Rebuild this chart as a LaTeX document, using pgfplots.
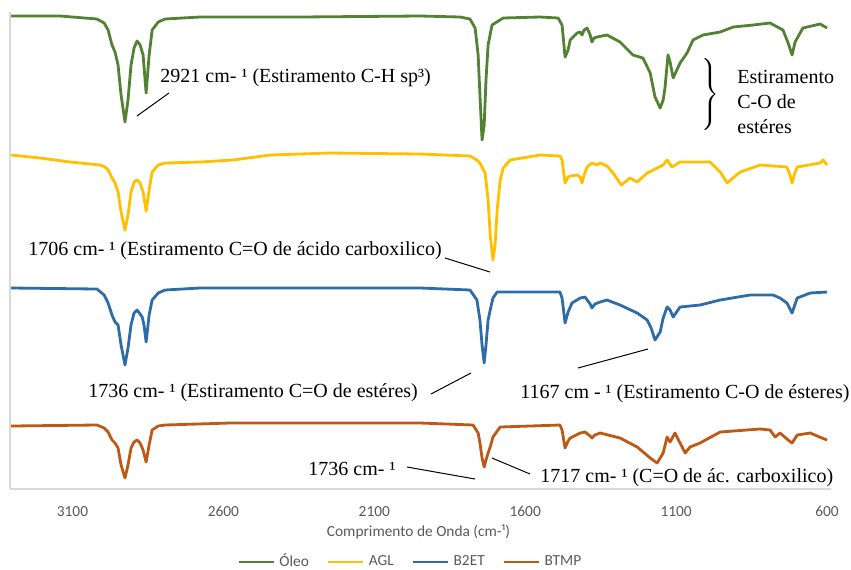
\documentclass[border=0pt]{standalone}
\usepackage{pgfplots}
\pgfplotsset{compat=1.18}
\usepackage{fontspec}
\setmainfont{Liberation Serif}
\newfontfamily\carlito{Carlito}
\definecolor{cOleo}{RGB}{84,130,53}
\definecolor{cAGL}{RGB}{255,192,0}
\definecolor{cB2ET}{RGB}{46,108,168}
\definecolor{cBTMP}{RGB}{190,88,22}
\definecolor{cTxt}{RGB}{89,89,89}
\definecolor{cAx}{RGB}{217,217,217}

\pgfplotstableread{
w y
3303 473
3141 473
3019 470
2995 466
2982 459
2969 444
2959 437
2949 424
2939 394
2926 367
2916 389
2906 424
2896 441
2886 448
2876 444
2866 434
2856 396
2846 434
2836 459
2816 467
2793 470
2677 472
2346 472
1948 473
1816 472
1783 470
1766 461
1756 434
1750 394
1743 349
1736 364
1730 409
1723 444
1710 464
1673 471
1551 472
1491 471
1478 464
1468 432
1458 439
1451 449
1428 456
1418 457
1412 454
1405 459
1395 461
1385 454
1379 447
1372 451
1362 452
1329 454
1286 447
1243 434
1210 431
1186 416
1170 392
1153 381
1143 389
1137 401
1127 434
1120 427
1110 411
1087 426
1064 436
1044 449
1011 454
954 457
911 462
845 464
789 466
746 459
729 446
716 434
706 447
680 461
623 465
600 461
}\oleo

\pgfplotstableread{
w y
3303 334
3207 331
3108 327
3009 324
2992 322
2982 319
2969 311
2959 306
2949 297
2939 277
2926 259
2916 274
2906 297
2896 307
2886 309
2876 306
2866 297
2856 278
2846 299
2836 317
2816 324
2793 326
2677 327
2568 329
2445 334
2247 336
1948 335
1783 333
1760 329
1750 326
1733 316
1723 289
1716 254
1707 229
1700 244
1693 279
1683 309
1673 321
1650 329
1551 334
1485 333
1478 329
1468 306
1458 312
1451 313
1428 314
1418 312
1412 306
1405 314
1395 322
1379 326
1362 324
1352 326
1329 323
1309 316
1282 304
1269 307
1253 311
1229 307
1196 316
1143 324
1130 329
1114 322
1087 327
988 327
954 317
931 306
888 317
822 324
733 322
723 314
716 306
709 314
699 322
623 326
613 329
600 324
}\agl

\pgfplotstableread{
w y
3303 201
3019 200
2995 194
2982 186
2969 174
2959 167
2949 164
2939 144
2926 124
2916 141
2906 164
2896 176
2886 179
2876 175
2869 172
2863 164
2856 147
2846 174
2836 189
2816 196
2793 199
2677 201
1948 201
1783 199
1760 189
1750 169
1743 144
1736 126
1730 144
1723 169
1716 179
1707 191
1693 197
1485 197
1478 191
1468 166
1458 177
1445 186
1418 191
1402 192
1385 185
1379 181
1369 185
1352 187
1329 189
1286 184
1229 176
1196 169
1183 161
1170 149
1153 157
1143 171
1130 182
1120 179
1110 172
1087 182
1021 184
954 189
855 194
779 194
756 191
733 186
716 176
699 191
656 196
600 197
}\btwoet

\pgfplotstableread{
w y
3303 63
3019 64
2995 61
2982 57
2969 49
2959 46
2949 41
2939 24
2926 11
2916 24
2906 41
2896 47
2886 49
2876 46
2866 39
2856 27
2846 44
2836 59
2816 63
2793 64
2578 66
1948 66
1773 64
1756 56
1750 46
1743 31
1736 22
1730 29
1723 36
1716 42
1707 52
1683 62
1485 64
1478 59
1468 41
1458 48
1451 51
1418 56
1402 57
1385 53
1379 51
1369 54
1352 56
1286 51
1229 42
1186 31
1163 26
1143 36
1130 52
1120 47
1104 56
1087 46
1070 36
1054 42
1021 46
954 57
822 60
789 59
772 52
756 56
729 49
716 46
699 54
656 56
617 51
600 49
}\btmp

\begin{document}
\begin{tikzpicture}
\path[use as bounding box] (0,0) rectangle (425.5pt,-284.5pt);
\begin{axis}[
  at={(5pt,-244.5pt)}, anchor=south west,
  scale only axis, width=410.5pt, height=238.5pt,
  xmin=587, xmax=3307, x dir=reverse,
  ymin=0, ymax=477,
  axis x line*=bottom, axis y line*=left,
  axis line style={draw=cAx, line width=0.6pt, -},
  xtick={600,1100,1600,2100,2600,3100}, ytick=\empty,
  major tick length=0pt,
  /pgf/number format/assume math mode=true,
  /pgf/number format/1000 sep={},
  xticklabel style={font=\carlito\fontsize{7.7}{9}\selectfont, text=cTxt, anchor=base, yshift=-13.5pt},
  xlabel={Comprimento de Onda (cm-¹)},
  xlabel style={font=\carlito\fontsize{7.7}{9}\selectfont, text=cTxt, at={(axis description cs:0.4976,0)}, anchor=base, yshift=-23.5pt},
  legend columns=4,
  legend style={at={(axis description cs:0.489,-0.153)}, anchor=center, draw=none, fill=none,
    font=\carlito\fontsize{7.7}{9}\selectfont, text=cTxt,
    /tikz/every even column/.append style={column sep=7pt}},
  legend image code/.code={\draw[#1] (0pt,0pt) -- (17.5pt,0pt);},
  every axis plot/.append style={line width=1.4pt, line join=round},
]
\addplot[cOleo] table[x=w,y=y] {\oleo};
\addlegendentry{Óleo}
\addplot[cAGL] table[x=w,y=y] {\agl};
\addlegendentry{AGL}
\addplot[cB2ET] table[x=w,y=y] {\btwoet};
\addlegendentry{B2ET}
\addplot[cBTMP] table[x=w,y=y] {\btmp};
\addlegendentry{BTMP}
\end{axis}
\begin{scope}[x=0.5pt,y=-0.5pt]
\tikzset{ann/.style={font=\fontsize{10}{12}\selectfont, inner sep=0pt, anchor=base west}}
\node[ann] at (160,82) {2921 cm- ¹ (Estiramento C-H sp³)};
\draw[line width=0.5pt] (137,116) -- (169,93);
\node[ann] at (737,83) {Estiramento};
\node[ann] at (737,108) {C-O de};
\node[ann] at (737,133) {estéres};
\node[inner sep=0pt] at (709,94) {$\left.\rule[-14.5pt]{0pt}{29pt}\right\}$};
\node[ann] at (28,255) {1706 cm- ¹ (Estiramento C=O de ácido carboxilico)};
\draw[line width=0.5pt] (445,258) -- (490,272);
\node[ann] at (88,397) {1736 cm- ¹ (Estiramento C=O de estéres)};
\draw[line width=0.5pt] (431,394) -- (471,373);
\node[ann] at (520,398) {1167 cm - ¹ (Estiramento C-O de ésteres)};
\draw[line width=0.5pt] (578,368) -- (648,349);
\node[ann] at (308,475) {1736 cm- ¹};
\draw[line width=0.5pt] (407,467) -- (475,479);
\node[ann] at (540,482) {1717 cm- ¹ (C=O de ác. carboxilico)};
\draw[line width=0.5pt] (492,458) -- (530,474);
\end{scope}
\end{tikzpicture}
\end{document}
